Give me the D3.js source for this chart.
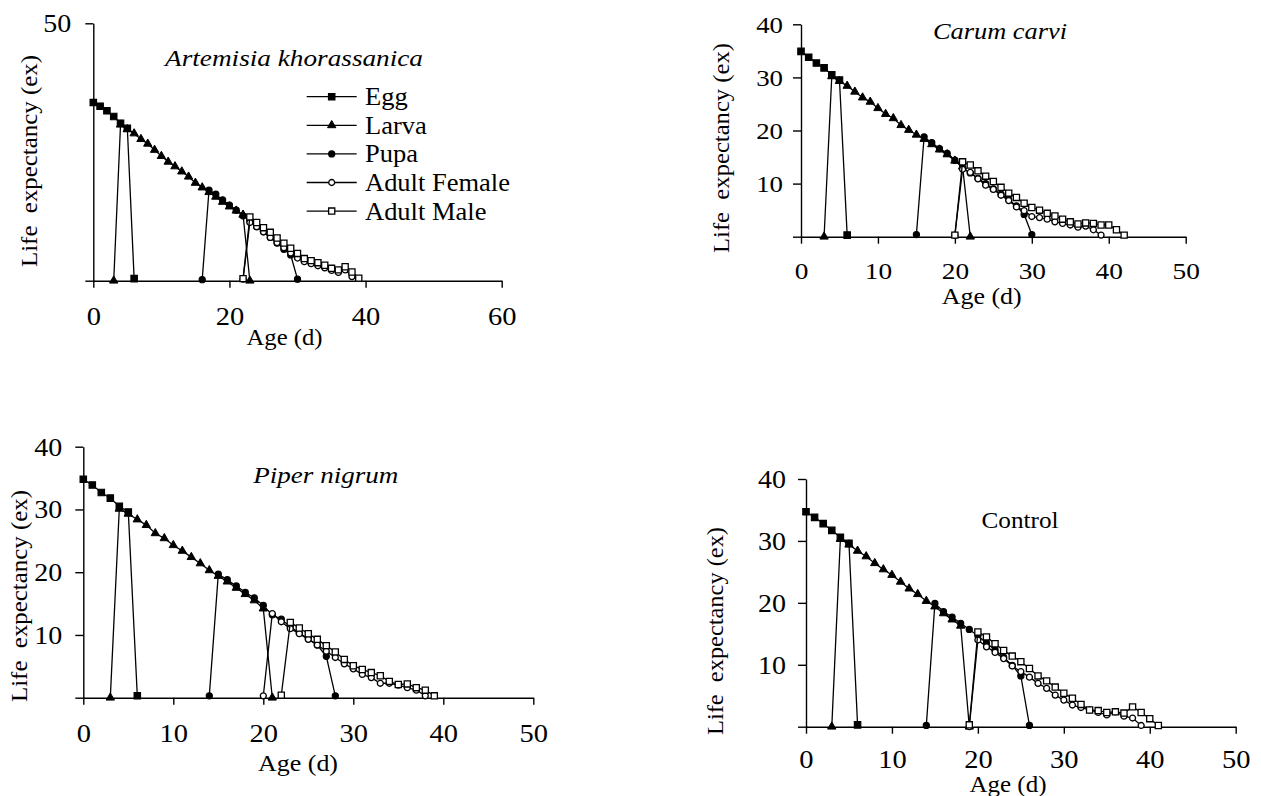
<!DOCTYPE html>
<html>
<head>
<meta charset="utf-8">
<script src="https://cdn.jsdelivr.net/npm/d3@7"></script>
<style>
  html, body { margin: 0; padding: 0; background: #fff; }
  svg { display: block; font-family: "Liberation Serif", "Times New Roman", serif; }
</style>
</head>
<body>
<svg id="chart" width="1261" height="796"></svg>
<script>
// ---- data (ages in days, ex = life expectancy) ----
var stageNames = ['Egg', 'Larva', 'Pupa', 'Adult Female', 'Adult Male'];
var panelTitles = ['Artemisia khorassanica', 'Carum carvi', 'Piper nigrum', 'Control'];

var xTicks60 = [0, 20, 40, 60];
var xTicks50 = [0, 10, 20, 30, 40, 50];
var yTicks50 = [0, 50];
var yTicks40 = [0, 10, 20, 30, 40];

// first age of each stage curve: egg, larva, pupa, female, male
var artemisiaStart = [0, 3, 16, 22, 22];
var artemisiaEgg = [34.6, 33.9, 33.0, 31.9, 30.6, 29.6, 0.4];
var artemisiaLarva = [0, 30.3, 29.4, 28.6, 27.5, 26.6, 25.4, 24.2, 23.1, 22.2, 21.2, 20.2, 19.0, 18.1, 17.2, 16.3, 15.3, 14.4, 13.6, 12.8, 0];
var artemisiaPupa = [0.2, 17.6, 16.8, 15.7, 14.7, 13.7, 12.6, 11.6, 10.5, 9.5, 8.4, 7.3, 6.1, 5.0, 0.3];
var artemisiaFemale = [0.3, 11.3, 10.5, 9.5, 8.4, 7.4, 6.4, 5.4, 4.4, 3.7, 3.3, 2.9, 2.5, 2.0, 1.6, 2.1, 0.8];
var artemisiaMale = [0.4, 12.4, 11.3, 10.3, 9.4, 8.3, 7.3, 6.3, 5.3, 4.3, 3.9, 3.5, 3.0, 2.4, 2.1, 2.7, 1.7, 0.5];

var carumStart = [0, 3, 15, 20, 20];
var carumEgg = [34.9, 33.8, 32.7, 31.8, 30.5, 29.5, 0.3];
var carumLarva = [0, 30.2, 29.3, 28.4, 27.3, 26.2, 25.4, 24.2, 23.1, 22.3, 21.0, 20.1, 19.2, 18.4, 17.4, 16.4, 15.5, 14.3, 13.2, 0];
var carumPupa = [0.4, 18.8, 17.7, 16.6, 15.7, 14.4, 13.0, 12.0, 11.0, 10.0, 9.0, 8.0, 7.0, 5.8, 4.2, 0.4];
var carumFemale = [0.3, 12.7, 12.1, 10.9, 9.7, 8.9, 7.8, 6.8, 5.6, 4.9, 3.8, 3.6, 3.3, 2.8, 2.5, 2.2, 1.8, 2.0, 1.3, 0.3];
var carumMale = [0.3, 14.1, 13.5, 12.4, 11.4, 10.4, 9.3, 8.2, 7.4, 6.3, 5.5, 5.0, 4.4, 3.9, 3.3, 2.8, 2.4, 2.6, 2.5, 2.2, 2.2, 1.3, 0.3];

var piperStart = [0, 3, 14, 20, 22];
var piperEgg = [34.8, 33.9, 32.7, 31.8, 30.5, 29.6, 0.3];
var piperLarva = [0, 30.1, 29.3, 28.4, 27.5, 26.2, 25.4, 24.3, 23.4, 22.4, 21.4, 20.3, 19.4, 18.5, 17.5, 16.5, 15.5, 14.2, 0];
var piperPupa = [0.3, 19.7, 18.8, 17.8, 16.8, 15.9, 14.7, 13.2, 12.5, 11.3, 10.3, 9.4, 8.4, 6.6, 0.3];
var piperFemale = [0.3, 13.4, 12.1, 11.0, 10.2, 9.3, 8.4, 7.4, 6.4, 5.4, 4.6, 3.7, 3.2, 2.3, 2.3, 2.0, 1.6, 1.2, 0.3];
var piperMale = [0.4, 12.0, 11.1, 10.2, 9.3, 8.3, 7.3, 6.1, 5.1, 4.5, 4.0, 3.5, 2.6, 2.1, 2.2, 1.6, 1.2, 0.3];

var controlStart = [0, 3, 14, 19, 19];
var controlEgg = [34.7, 33.8, 32.8, 31.7, 30.6, 29.6, 0.3];
var controlLarva = [0, 30.3, 29.4, 28.4, 27.5, 26.4, 25.4, 24.5, 23.4, 22.3, 21.4, 20.3, 19.4, 18.3, 17.3, 16.3, 0];
var controlPupa = [0.2, 19.9, 18.6, 17.7, 16.7, 15.7, 14.7, 13.5, 12.4, 11.2, 9.9, 8.2, 0.2];
var controlFemale = [0, 14.0, 12.9, 12.0, 11.0, 9.8, 8.9, 8.0, 7.0, 6.2, 5.1, 4.3, 3.5, 3.1, 2.7, 2.3, 1.9, 2.4, 1.7, 1.4, 0.2];
var controlMale = [0.3, 15.3, 14.5, 13.4, 12.3, 11.4, 10.5, 9.4, 8.2, 7.4, 6.4, 5.4, 4.6, 3.6, 2.7, 2.6, 2.3, 2.4, 2.2, 3.2, 2.3, 1.3, 0.2];

// ---- layout ----
var serif = '"Liberation Serif", "Times New Roman", serif';

var panels = [
	{
		title: panelTitles[0], italic: true, start: artemisiaStart,
		series: [artemisiaEgg, artemisiaLarva, artemisiaPupa, artemisiaFemale, artemisiaMale],
		xDomain: [0, 60], xTicks: xTicks60, yDomain: [0, 50], yTicks: yTicks50,
		x0: 93.3, x1: 501.7, yTop: 23.3, yBase: 280.7, xLabelDy: 44.3, yLabelGap: 22, tickFont: 25,
		titleX: 294, titleY: 66, titleW: 258,
		ageX: 284.5, ageY: 345, ageW: 76,
		lifeX: 32, lifeY: 161, lifeW: 212,
		legend: true
	},
	{
		title: panelTitles[1], italic: true, start: carumStart,
		series: [carumEgg, carumLarva, carumPupa, carumFemale, carumMale],
		xDomain: [0, 50], xTicks: xTicks50, yDomain: [0, 40], yTicks: yTicks40,
		x0: 801, x1: 1185.7, yTop: 24.3, yBase: 236.7, xLabelDy: 42.3, yLabelGap: 18, tickFont: 24,
		titleX: 1000, titleY: 39.3, titleW: 134,
		ageX: 981.7, ageY: 304, ageW: 80,
		lifeX: 724, lifeY: 148, lifeW: 210
	},
	{
		title: panelTitles[2], italic: true, start: piperStart,
		series: [piperEgg, piperLarva, piperPupa, piperFemale, piperMale],
		xDomain: [0, 50], xTicks: xTicks50, yDomain: [0, 40], yTicks: yTicks40,
		x0: 83.3, x1: 533.3, yTop: 446.7, yBase: 697.7, xLabelDy: 44.3, yLabelGap: 21, tickFont: 25,
		titleX: 325.8, titleY: 483.3, titleW: 145,
		ageX: 298, ageY: 771, ageW: 80,
		lifeX: 22, lifeY: 596, lifeW: 212
	},
	{
		title: panelTitles[3], italic: false, start: controlStart,
		series: [controlEgg, controlLarva, controlPupa, controlFemale, controlMale],
		xDomain: [0, 50], xTicks: xTicks50, yDomain: [0, 40], yTicks: yTicks40,
		x0: 806, x1: 1235.7, yTop: 479, yBase: 726.7, xLabelDy: 40.8, yLabelGap: 20, tickFont: 25,
		titleX: 1020, titleY: 528.3, titleW: 77,
		ageX: 1008, ageY: 791.5, ageW: 77,
		lifeX: 718, lifeY: 631, lifeW: 208
	}
];

var stageStyle = [
	{ shape: d3.symbolSquare, size: 42, fill: '#000', sw: 1.1 },
	{ shape: d3.symbolTriangle, size: 30, fill: '#000', sw: 1.0 },
	{ shape: d3.symbolCircle, size: 30, fill: '#000', sw: 1.1 },
	{ shape: d3.symbolCircle, size: 28, fill: '#fff', sw: 1.3 },
	{ shape: d3.symbolSquare, size: 38, fill: '#fff', sw: 1.3 }
];

var svg = d3.select('#chart');
svg.append('rect').attr('width', 1261).attr('height', 796).attr('fill', '#fff');

function drawMarker(sel, stage) {
	var st = stageStyle[stage];
	return sel.append('path')
		.attr('d', d3.symbol().type(st.shape).size(st.size)())
		.attr('fill', st.fill)
		.attr('stroke', '#000')
		.attr('stroke-width', st.sw);
}

function drawPanel(p) {
	var x = d3.scaleLinear().domain(p.xDomain).range([p.x0, p.x1]);
	var y = d3.scaleLinear().domain(p.yDomain).range([p.yBase, p.yTop]);
	var g = svg.append('g');

	var xAxis = g.append('g')
		.attr('transform', 'translate(0,' + p.yBase + ')')
		.call(d3.axisBottom(x).tickValues(p.xTicks).tickSize(7).tickSizeOuter(0));

	var yAxis = g.append('g')
		.attr('transform', 'translate(' + p.x0 + ',0)')
		.call(d3.axisLeft(y).tickValues(p.yTicks).tickSize(8).tickSizeOuter(0)
			.tickFormat(function(d) { return d === 0 ? '' : d; }));

	[xAxis, yAxis].forEach(function(a) {
		a.selectAll('path, line').attr('stroke', '#000').attr('stroke-width', 1.4);
		a.selectAll('text').attr('fill', '#000')
			.style('font-size', p.tickFont + 'px').style('font-family', serif);
	});
	xAxis.selectAll('text').attr('y', null).attr('dy', null)
		.attr('transform', 'translate(0,' + p.xLabelDy + ') scale(1.14,1)');
	yAxis.selectAll('text').attr('x', null).attr('dy', '0.34em')
		.attr('transform', 'translate(' + (-p.yLabelGap) + ',0) scale(1.12,1)');

	// series: line first, then its markers
	var line = d3.line()
		.x(function(d) { return x(d.age); })
		.y(function(d) { return y(d.ex); });

	p.series.forEach(function(values, stage) {
		var pts = values.map(function(v, i) { return { age: p.start[stage] + i, ex: v }; });
		var sg = g.append('g').attr('class', 'stage');
		sg.append('path')
			.attr('d', line(pts))
			.attr('fill', 'none')
			.attr('stroke', '#000')
			.attr('stroke-width', 1.3);
		sg.selectAll('g.pt')
			.data(pts)
			.enter()
			.append('g')
			.attr('class', 'pt')
			.attr('transform', function(d) { return 'translate(' + x(d.age) + ',' + y(d.ex) + ')'; })
			.each(function() { drawMarker(d3.select(this), stage); });
	});

	g.append('text')
		.attr('x', p.titleX).attr('y', p.titleY)
		.attr('text-anchor', 'middle')
		.attr('textLength', p.titleW).attr('lengthAdjust', 'spacingAndGlyphs')
		.style('font-size', '24px')
		.style('font-style', p.italic ? 'italic' : 'normal')
		.text(p.title);

	g.append('text')
		.attr('x', p.ageX).attr('y', p.ageY)
		.attr('text-anchor', 'middle')
		.attr('textLength', p.ageW).attr('lengthAdjust', 'spacingAndGlyphs')
		.style('font-size', '24px')
		.text('Age (d)');

	g.append('text')
		.attr('transform', 'translate(' + p.lifeX + ',' + p.lifeY + ') rotate(-90)')
		.attr('dy', '0.22em')
		.attr('text-anchor', 'middle')
		.attr('textLength', p.lifeW).attr('lengthAdjust', 'spacingAndGlyphs')
		.style('font-size', '24px')
		.style('white-space', 'pre')
		.text('Life  expectancy (ex)');

	if (p.legend) {
		var lg = g.append('g');
		stageNames.forEach(function(name, i) {
			var ly = 96.7 + i * 28.6;
			lg.append('line')
				.attr('x1', 306.7).attr('x2', 356.7)
				.attr('y1', ly).attr('y2', ly)
				.attr('stroke', '#000').attr('stroke-width', 1.3);
			drawMarker(lg.append('g').attr('transform', 'translate(331.7,' + ly + ')'), i);
			lg.append('text')
				.attr('transform', 'translate(365,' + (ly + 8.4) + ') scale(1.06,1)')
				.style('font-size', '25px')
				.text(name);
		});
	}
}

panels.forEach(drawPanel);
</script>
</body>
</html>
